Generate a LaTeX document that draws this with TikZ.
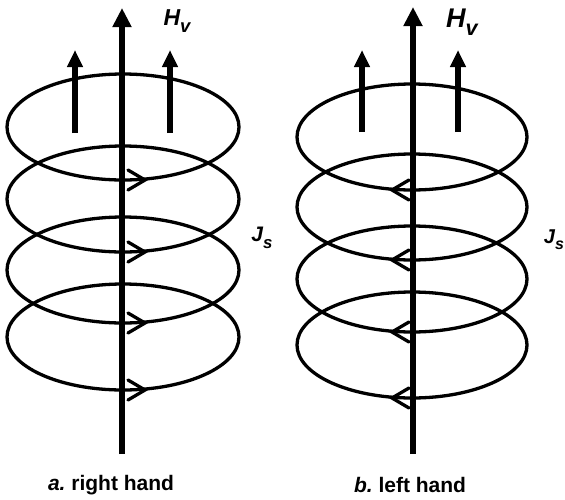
\documentclass[tikz,border=0pt]{standalone}
\usepackage{fontspec}
\setmainfont{Liberation Sans}
\usepackage{tikz}
\usetikzlibrary{arrows.meta}

\newcommand{\qsub}[3]{{\fontsize{#3}{#3}\selectfont\bfseries\itshape #1\raisebox{-0.3em}{\fontsize{0.8\dimexpr#3\relax}{1}\selectfont #2}}}

\begin{document}
\begin{tikzpicture}[
  x=1pt, y=-1pt,
  loop/.style={line width=3.3pt, draw=black},
  axis/.style={line width=5.5pt, -{Triangle[length=19pt,width=18pt]}},
  field/.style={line width=5.5pt, -{Triangle[length=17pt,width=15pt]}},
  chevron/.style={line width=3.3pt, line cap=round, line join=miter},
  caption/.style={font=\fontsize{21}{23}\selectfont\bfseries, inner sep=0pt}
]
\useasboundingbox (0,0) rectangle (565,499);

% a. right hand
\foreach \cy in {127,199,270,337}
  \draw[loop] (123,\cy) ellipse [x radius=116, y radius=53];
\foreach \cy in {127,199,270,337}
  \draw[chevron] (128,\cy+43) -- (145,\cy+53) -- (128,\cy+63);
\coordinate (a-bot) at (122,454);
\coordinate (a-top) at (122,8);
\draw[axis] (a-bot) -- (a-top);
\coordinate (a-l0) at (75,133);  \coordinate (a-l1) at (75,50);
\coordinate (a-r0) at (170,133); \coordinate (a-r1) at (170,50);
\draw[field] (a-l0) -- (a-l1);
\draw[field] (a-r0) -- (a-r1);
\node (a-hv) at (177,21) {\qsub{H}{v}{23pt}};
\node (a-js) at (262,238) {\qsub{J}{s}{21pt}};
\node[caption] (a-cap) at (111,485) {\textit{a.}~right hand};

% b. left hand
\foreach \cy in {137,207,279,345}
  \draw[loop] (412,\cy) ellipse [x radius=115, y radius=53];
\foreach \cy in {137,207,279,345}
  \draw[chevron] (409,\cy+43) -- (392,\cy+53) -- (409,\cy+63);
\coordinate (b-bot) at (413,454);
\coordinate (b-top) at (413,7);
\draw[axis] (b-bot) -- (b-top);
\coordinate (b-l0) at (362,132); \coordinate (b-l1) at (362,50);
\coordinate (b-r0) at (458,132); \coordinate (b-r1) at (458,50);
\draw[field] (b-l0) -- (b-l1);
\draw[field] (b-r0) -- (b-r1);
\node (b-hv) at (462,22) {\qsub{H}{v}{27pt}};
\node (b-js) at (554,240) {\qsub{J}{s}{20pt}};
\node[caption] (b-cap) at (410,485) {\textit{b.}~left hand};
\end{tikzpicture}
\end{document}
